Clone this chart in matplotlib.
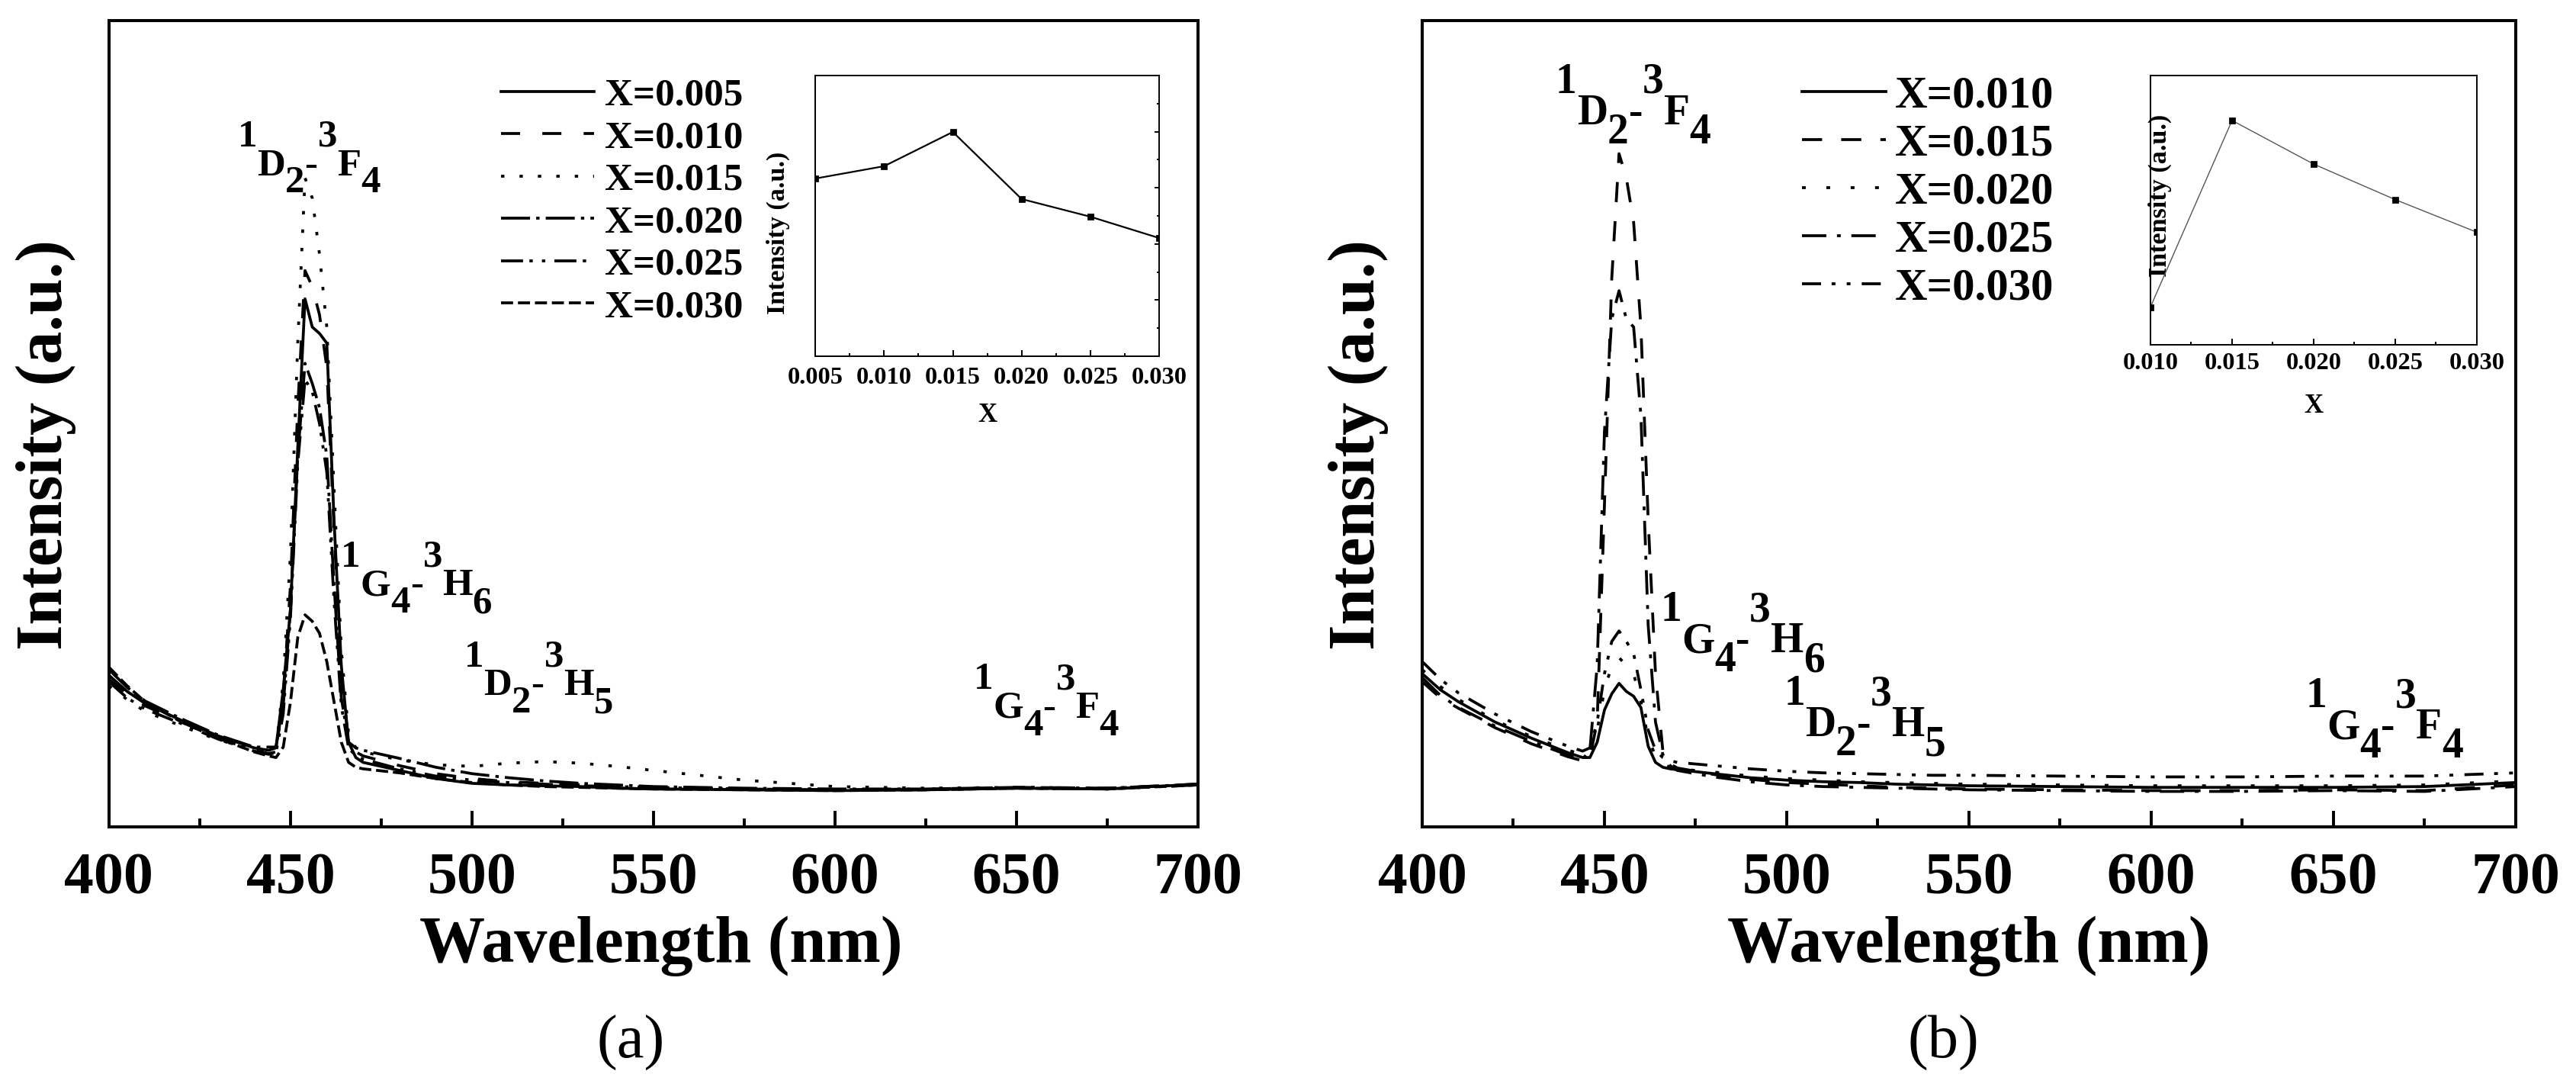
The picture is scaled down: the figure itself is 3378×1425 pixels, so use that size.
import matplotlib
matplotlib.use('Agg')
import matplotlib.pyplot as plt
import matplotlib.font_manager as fm
from matplotlib.ticker import MultipleLocator, NullLocator, FormatStrFormatter

# fonte com serifa (tipo Times)
nomes = {f.name for f in fm.fontManager.ttflist}
serifa = next((n for n in ['Liberation Serif', 'Times New Roman', 'Nimbus Roman',
                           'DejaVu Serif'] if n in nomes), 'serif')
plt.rcParams['font.family'] = 'serif'
plt.rcParams['font.serif'] = [serifa]
plt.rcParams['font.weight'] = 'bold'
plt.rcParams['lines.scale_dashes'] = False

# comprimento de onda (nm), mesma grade para os dois painéis
wavelength = [400, 405, 410, 420, 430, 440, 444, 446, 448, 450, 452, 454, 456, 458,
              460, 462, 464, 466, 468, 470, 480, 490, 500, 510, 520, 530, 540, 550,
              575, 600, 625, 650, 675, 700]

# painel (a)
a_005 = [18.8, 16.8, 15.3, 13.2, 11.3, 9.8, 9.5, 9.8, 17, 27, 47, 65.5, 62, 61.2,
         60, 38, 20, 10.5, 8.6, 8.0, 7.0, 6.0, 5.4, 5.2, 5.1, 5.0, 4.8, 4.7,
         4.6, 4.5, 4.6, 4.8, 4.7, 5.3]
a_010 = [18.3, 16.5, 15.0, 13.0, 11.0, 9.5, 9.1, 9.3, 16, 30, 52, 69, 67, 63.5,
         57, 37, 19, 10.5, 9.3, 8.8, 7.6, 6.6, 6.0, 5.6, 5.4, 5.2, 5.0, 4.9,
         4.7, 4.6, 4.7, 4.9, 4.8, 5.3]
a_015 = [17.5, 15.8, 14.3, 12.5, 10.8, 9.6, 9.3, 9.5, 18, 34, 60, 80.5, 78, 71,
         62, 42, 22, 11.5, 9.8, 9.3, 8.3, 7.7, 7.5, 7.9, 8.1, 7.9, 7.5, 7.0,
         5.8, 5.0, 4.8, 4.9, 4.8, 5.2]
a_020 = [19.5, 17.3, 15.6, 13.4, 11.4, 9.9, 9.9, 9.9, 15, 27, 46, 57.5, 55, 52,
         46, 30, 16, 10.5, 9.8, 9.5, 8.5, 7.4, 6.6, 6.1, 5.7, 5.4, 5.2, 5.0,
         4.8, 4.7, 4.7, 4.9, 4.8, 5.3]
a_025 = [18.0, 16.0, 14.6, 12.8, 10.9, 9.4, 9.0, 9.2, 14, 26, 45, 55.5, 54, 50,
         44, 28, 15, 9.8, 8.8, 8.4, 7.2, 6.3, 5.8, 5.5, 5.3, 5.1, 5.0, 4.9,
         4.7, 4.6, 4.6, 4.8, 4.7, 5.2]
a_030 = [19.8, 17.5, 15.5, 13.0, 11.0, 9.3, 8.8, 8.6, 9.9, 15.5, 23.5, 26.3, 25.5, 24,
         20.5, 15.5, 10.5, 8.0, 7.4, 7.2, 6.7, 6.0, 5.5, 5.2, 5.0, 4.9, 4.8, 4.7,
         4.6, 4.5, 4.6, 4.8, 4.7, 5.2]
labels_a = ['X=0.005', 'X=0.010', 'X=0.015', 'X=0.020', 'X=0.025', 'X=0.030']

# painel (b)
b_010 = [19.0, 17.0, 15.5, 13.0, 11.0, 9.2, 8.6, 8.6, 10.5, 14.5, 16.5, 17.8, 16.8, 16.2,
         14.8, 10.0, 8.0, 7.4, 7.2, 7.1, 6.6, 6.1, 5.8, 5.6, 5.5, 5.3, 5.2, 5.1,
         5.0, 4.9, 4.9, 4.9, 5.0, 5.5]
b_015 = [18.0, 16.0, 14.7, 12.3, 10.3, 8.7, 8.2, 8.6, 13, 40, 68, 83.5, 80.5, 75,
         62, 38, 19, 9.5, 7.8, 7.3, 6.5, 5.9, 5.5, 5.3, 5.1, 4.9, 4.8, 4.7,
         4.6, 4.5, 4.5, 4.6, 4.5, 5.2]
b_020 = [19.5, 17.4, 15.8, 13.2, 11.2, 9.5, 9.0, 9.2, 12, 17, 20, 21, 20, 19,
         15.5, 11, 8.8, 7.8, 7.4, 7.2, 6.8, 6.3, 6.0, 5.8, 5.6, 5.5, 5.4, 5.3,
         5.2, 5.1, 5.1, 5.1, 5.2, 5.7]
b_025 = [18.5, 16.3, 14.8, 12.5, 10.6, 8.9, 8.4, 9.5, 20, 49, 63, 66.5, 63, 62,
         51, 25, 13, 9.0, 7.6, 7.0, 6.2, 5.6, 5.2, 5.0, 4.9, 4.8, 4.7, 4.6,
         4.5, 4.4, 4.4, 4.5, 4.4, 5.0]
b_030 = [20.5, 18.3, 16.6, 14.0, 11.8, 10.0, 9.4, 9.8, 13, 19, 23, 24.3, 23, 21.5,
         17, 12, 9.5, 8.6, 8.2, 8.0, 7.6, 7.2, 6.9, 6.7, 6.6, 6.5, 6.4, 6.4,
         6.3, 6.2, 6.2, 6.3, 6.3, 6.7]
labels_b = ['X=0.010', 'X=0.015', 'X=0.020', 'X=0.025', 'X=0.030']

# insets
inset_x_a = [0.005, 0.010, 0.015, 0.020, 0.025, 0.030]
inset_y_a = [6.33, 6.77, 7.99, 5.60, 4.97, 4.21]
inset_x_b = [0.010, 0.015, 0.020, 0.025, 0.030]
inset_y_b = [1.39, 8.32, 6.70, 5.38, 4.17]

# estilos de linha (tracos em pontos)
dash_a = ['-', (0, (9, 10.5)), (0, (1.6, 7.1)), (0, (13.7, 2.9, 1.6, 2.9)),
          (0, (10.4, 3, 1.6, 4.3, 1.6, 4.3)), (0, (5.7, 2.3))]
dash_b = ['-', (0, (9.5, 9)), (0, (1.8, 9.7)), (0, (11.5, 5, 1.8, 5)),
          (0, (9, 5, 1.8, 5.3, 1.8, 5.3))]

# niveis: (texto, deslocamento vertical em em)
lvl_DF = [('1', 0.74), ('D', 0), ('2', -0.45), ('-', 0), ('3', 0.74), ('F', 0), ('4', -0.45)]
lvl_GH = [('1', 0.74), ('G', 0), ('4', -0.45), ('-', 0), ('3', 0.74), ('H', 0), ('6', -0.45)]
lvl_DH = [('1', 0.74), ('D', 0), ('2', -0.45), ('-', 0), ('3', 0.74), ('H', 0), ('5', -0.45)]
lvl_GF = [('1', 0.74), ('G', 0), ('4', -0.45), ('-', 0), ('3', 0.74), ('F', 0), ('4', -0.45)]


def nivel(ax, x, y, partes, size):
    prev = None
    prev_s = 0
    for txt, s in partes:
        if prev is None:
            prev = ax.annotate(txt, xy=(x, y), xycoords='data',
                               xytext=(0, s * size), textcoords='offset points',
                               fontsize=size, fontweight='bold', ha='left', va='bottom')
        else:
            prev = ax.annotate(txt, xy=(1, 0), xycoords=prev,
                               xytext=(0, (s - prev_s) * size), textcoords='offset points',
                               fontsize=size, fontweight='bold', ha='left', va='bottom')
        prev_s = s


def eixo_principal(ax):
    ax.set_xlim(400, 700)
    ax.set_ylim(0, 100)
    ax.xaxis.set_major_locator(MultipleLocator(50))
    ax.xaxis.set_minor_locator(MultipleLocator(25))
    ax.yaxis.set_major_locator(NullLocator())
    ax.tick_params(axis='x', which='major', direction='in', length=7.6, width=1.4,
                   labelsize=28, pad=12)
    ax.tick_params(axis='x', which='minor', direction='in', length=4, width=1.4)
    for sp in ax.spines.values():
        sp.set_linewidth(1.45)
    ax.set_xlabel('Wavelength (nm)', fontsize=31, fontweight='bold')
    ax.set_ylabel('Intensity (a.u.)', fontsize=31, fontweight='bold', va='center')


def eixo_inset(ax, xmin, xmax):
    ax.set_xlim(xmin, xmax)
    ax.set_ylim(0, 10)
    ax.xaxis.set_major_locator(MultipleLocator(0.005))
    ax.xaxis.set_minor_locator(MultipleLocator(0.0025))
    ax.xaxis.set_major_formatter(FormatStrFormatter('%.3f'))
    for sp in ax.spines.values():
        sp.set_linewidth(0.7)
    ax.tick_params(axis='x', which='major', direction='in', length=3, width=0.7,
                   labelsize=11.7)
    ax.tick_params(axis='x', which='minor', direction='in', length=1.6, width=0.7)
    ax.set_xlabel('X', fontsize=12.5, fontweight='bold')
    ax.set_ylabel('Intensity (a.u.)', fontsize=12.3, fontweight='bold', va='center')


fig = plt.figure(figsize=(16.89, 7.125), dpi=200)
ax1 = fig.add_axes([0.0423, 0.2393, 0.4228, 0.7417])
ax2 = fig.add_axes([0.5521, 0.2393, 0.4245, 0.7417])

# ---- painel (a)
for ys, lab, ls in zip([a_005, a_010, a_015, a_020, a_025, a_030], labels_a, dash_a):
    ax1.plot(wavelength, ys, color='black', lw=1.35, linestyle=ls, label=lab)
eixo_principal(ax1)
ax1.xaxis.set_label_coords(0.507, -0.110)
ax1.yaxis.set_label_coords(-0.058, 0.474)
ax1.legend(loc='upper left', bbox_to_anchor=(0.36, 0.929), frameon=False,
           fontsize=18.4, handlelength=2.39, handletextpad=0.27, labelspacing=0.17,
           borderpad=0, borderaxespad=0)
nivel(ax1, 435.5, 79.8, lvl_DF, 18.3)
nivel(ax1, 463.9, 27.7, lvl_GH, 18.3)
nivel(ax1, 497.9, 15.3, lvl_DH, 18.3)
nivel(ax1, 638.2, 12.5, lvl_GF, 18.3)

ins1 = fig.add_axes([0.3165, 0.6723, 0.1335, 0.2582])
ins1.plot(inset_x_a, inset_y_a, color='black', lw=0.8, marker='s', ms=2.4)
eixo_inset(ins1, 0.005, 0.030)
ins1.yaxis.tick_right()
ins1.yaxis.set_major_locator(MultipleLocator(2))
ins1.yaxis.set_minor_locator(MultipleLocator(1))
ins1.tick_params(axis='y', which='major', direction='in', length=2.2, width=0.7,
                 labelright=False)
ins1.tick_params(axis='y', which='minor', direction='in', length=1.2, width=0.7)
ins1.tick_params(axis='x', which='major', pad=5)
ins1.yaxis.set_label_position('left')
ins1.xaxis.set_label_coords(0.5, -0.166)
ins1.yaxis.set_label_coords(-0.073, 0.44)

# ---- painel (b)
for ys, lab, ls in zip([b_010, b_015, b_020, b_025, b_030], labels_b, dash_b):
    ax2.plot(wavelength, ys, color='black', lw=1.35, linestyle=ls, label=lab)
eixo_principal(ax2)
ax2.xaxis.set_label_coords(0.5, -0.110)
ax2.yaxis.set_label_coords(-0.0586, 0.474)
ax2.legend(loc='upper left', bbox_to_anchor=(0.347, 0.932), frameon=False,
           fontsize=21.2, handlelength=1.88, handletextpad=0.2, labelspacing=0.15,
           borderpad=0, borderaxespad=0)
nivel(ax2, 436.6, 86.0, lvl_DF, 20.0)
nivel(ax2, 465.3, 20.5, lvl_GH, 20.0)
nivel(ax2, 499.2, 10.1, lvl_DH, 20.0)
nivel(ax2, 642.3, 9.8, lvl_GF, 20.0)

ins2 = fig.add_axes([0.8348, 0.6831, 0.1267, 0.2477])
ins2.plot(inset_x_b, inset_y_b, color='#555555', lw=0.5, marker='s', ms=2.5,
          markerfacecolor='black', markeredgecolor='black')
eixo_inset(ins2, 0.010, 0.030)
ins2.yaxis.set_major_locator(NullLocator())
ins2.tick_params(axis='x', which='major', pad=3.7)
ins2.xaxis.set_label_coords(0.5, -0.182)
ins2.yaxis.set_label_coords(0.030, 0.554)

fig.text(0.2448, 0.0407, '(a)', fontsize=29, fontweight='normal', ha='center', va='center')
fig.text(0.7543, 0.0407, '(b)', fontsize=29, fontweight='normal', ha='center', va='center')

fig.savefig('out.png', dpi=200)
plt.close(fig)
